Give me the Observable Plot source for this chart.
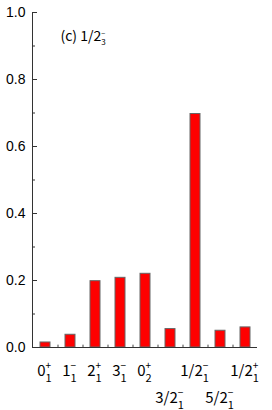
<!DOCTYPE html>
<html><head><meta charset="utf-8">
<script src="https://cdn.jsdelivr.net/npm/d3@7"></script>
<script src="https://cdn.jsdelivr.net/npm/@observablehq/plot@0.6"></script>
<style>body{margin:0;background:#fff} svg{display:block}</style>
</head><body><div id="chart"></div>
<script>
const states = ["0+1","1-1","2+1","3-1","0+2","3/2-1","1/2-1","5/2-1","1/2+1"];
const values = [0.015, 0.038, 0.198, 0.208, 0.22, 0.055, 0.697, 0.05, 0.06];
const labelBase = ["0","1","2","3","0","3/2","1/2","5/2","1/2"];
const labelSub = ["1","1","1","1","2","1","1","1","1"];
const labelSup = ["+","\u2212","+","\u2212","+","\u2212","\u2212","\u2212","+"];
const labelRow = [0,0,0,0,0,1,0,1,0];
const yMajor = [0, 0.2, 0.4, 0.6, 0.8, 1.0];
const yMinor = [0.1, 0.3, 0.5, 0.7, 0.9];
const titleBase = "(c) 1/2", titleSub = "3", titleSup = "\u2212";

const data = states.map((s, i) => ({state: s, value: values[i], base: labelBase[i], sub: labelSub[i], sup: labelSup[i], row: labelRow[i]}));
const row0 = data.filter(d => d.row === 0);
const row1 = data.filter(d => d.row === 1);
const labFont = "'Noto Sans CJK JP', sans-serif";

const chart = Plot.plot({
  width: 272, height: 410,
  marginLeft: 32, marginRight: 15, marginTop: 12, marginBottom: 63,
  style: {fontFamily: "'Liberation Sans', Arial, sans-serif", fontSize: "14px", background: "white", color: "#000"},
  x: {domain: states, paddingInner: 0.6, paddingOuter: 0.3, axis: null},
  y: {domain: [0, 1], axis: null},
  marks: [
    Plot.barY(data, {x: "state", y: "value", fill: "#ff0000", stroke: "#666", strokeWidth: 1}),
    Plot.ruleX(states.slice(0, 8), {x: d => d, dx: 12.5, y1: 0, y2: 0.007, stroke: "#444"}),
    Plot.ruleY([0], {stroke: "#333"}),
    Plot.frame({anchor: "left", stroke: "#333"}),
    Plot.axisY({ticks: yMajor, tickSize: 0, tickPadding: 7, tickFormat: d => d.toFixed(1), fontSize: 14, label: null}),
    Plot.axisY({ticks: yMajor, tickSize: -5, tickFormat: () => "", stroke: "#333", label: null}),
    Plot.axisY({ticks: yMinor, tickSize: -3, tickFormat: () => "", stroke: "#333", label: null}),
    Plot.text(row0, {x: "state", frameAnchor: "bottom", dy: 28, dx: -1, lineAnchor: "bottom", text: "base", className: "xlab0", fontFamily: labFont, fontSize: 15}),
    Plot.text(row1, {x: "state", frameAnchor: "bottom", dy: 55, dx: -1, lineAnchor: "bottom", text: "base", className: "xlab1", fontFamily: labFont, fontSize: 15}),
    Plot.text([titleBase], {frameAnchor: "top-left", dx: 28, dy: 28, lineAnchor: "bottom", textAnchor: "start", className: "ttl", fontFamily: labFont, fontSize: 14})
  ]
});
document.getElementById("chart").append(chart);

function rich(el, base, sub, sup, subSize, subDy, supSize, supDy) {
  const t = d3.select(el);
  t.text(null);
  t.append("tspan").text(base);
  const s = t.append("tspan").attr("font-size", subSize).attr("dy", subDy).text(sub);
  const w = s.node().getComputedTextLength();
  t.append("tspan").attr("font-size", supSize).attr("dx", -w).attr("dy", supDy).text(sup);
}
d3.select(chart).selectAll("g.xlab0 text").each(function(_, i) {
  const d = row0[i]; rich(this, d.base, d.sub, d.sup, 11, 6, 10, -12.5);
});
d3.select(chart).selectAll("g.xlab1 text").each(function(_, i) {
  const d = row1[i]; rich(this, d.base, d.sub, d.sup, 11, 6, 10, -12.5);
});
d3.select(chart).selectAll("g.ttl text").each(function() {
  rich(this, titleBase, titleSub, titleSup, 8, 4, 7, -9);
});
</script></body></html>
